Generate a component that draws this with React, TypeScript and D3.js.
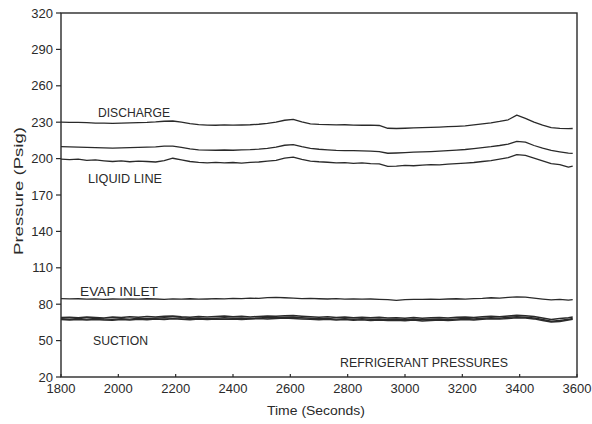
import React from 'react';
import * as d3 from 'd3';

const WIDTH = 592;
const HEIGHT = 424;

// Sample times (seconds), every 30 s plus the last logged sample
const timeS: number[] = [...d3.range(1800, 3571, 30), 3585];

// Pressures in psig
const discharge = [
  230.0, 229.8, 229.9, 229.6, 229.3, 229.2, 229.0, 229.3, 229.5, 229.6,
  229.8, 230.2, 230.8, 231.0, 230.0, 228.8, 228.0, 227.6, 227.5, 227.8,
  227.6, 227.7, 227.9, 228.3, 229.0, 230.0, 231.6, 232.4, 230.2, 228.7,
  228.2, 228.0, 227.8, 227.9, 227.6, 227.5, 227.6, 227.3, 225.0, 224.8,
  225.0, 225.3, 225.5, 225.8, 226.0, 226.3, 226.6, 227.0, 227.8, 228.6,
  229.5, 230.6, 232.0, 235.8, 233.2, 230.0, 227.6, 225.6, 224.9, 224.7,
  224.8,
];
const condenserOut = [
  209.8, 209.6, 209.5, 209.3, 209.0, 208.8, 208.7, 208.9, 209.0, 209.2,
  209.4, 209.7, 210.2, 210.3, 209.3, 208.0, 207.2, 207.0, 206.9, 207.1,
  206.9, 207.2, 207.4, 207.8, 208.5, 209.5, 211.0, 211.6, 209.8, 208.4,
  207.7, 207.2, 206.8, 206.6, 206.5, 206.3, 206.2, 205.8, 204.4, 204.6,
  204.9, 205.3, 205.5, 205.8, 206.2, 206.6, 207.0, 207.5, 208.2, 209.0,
  209.8, 210.8, 212.0, 214.2, 213.6, 210.8, 208.6, 206.8, 205.6, 204.5,
  204.3,
];
const liquidLine = [
  199.6, 199.2, 199.5, 198.6, 198.9, 198.2, 197.6, 198.1, 197.4, 197.9,
  197.6, 197.2, 198.4, 200.3, 199.0, 197.6, 196.9, 196.5, 196.9, 196.4,
  196.8, 196.3, 196.9, 197.2, 197.9, 198.6, 200.4, 201.2, 199.3, 198.0,
  197.4, 197.0, 196.4, 196.7, 196.1, 196.4, 195.9, 195.6, 193.6, 193.8,
  194.4, 194.1, 194.7, 195.0, 194.8, 195.4, 195.9, 196.3, 196.8, 197.6,
  198.4, 199.6, 200.8, 203.2, 202.6, 200.4, 198.2, 195.9, 195.1, 192.9,
  193.8,
];
const evapInlet = [
  84.6, 84.4, 84.5, 84.2, 84.4, 84.0, 84.3, 84.1, 84.4, 84.2,
  84.5, 84.3, 84.0, 84.4, 84.2, 84.5, 84.1, 84.3, 84.6, 84.4,
  84.8, 84.6, 85.0, 84.8, 85.4, 85.7, 85.3, 85.0, 84.6, 84.8,
  84.5, 84.3, 84.6, 84.2, 84.4, 84.1, 84.3, 84.0, 83.8, 83.1,
  83.8, 84.0, 83.9, 84.2, 84.0, 84.3, 84.5, 84.2, 84.6, 84.8,
  85.3, 85.0, 85.6, 86.0, 85.8, 85.0, 84.2, 83.5, 83.9, 83.4,
  83.8,
];
const suctionA = [
  69.0, 69.3, 68.8, 69.5, 69.1, 68.7, 69.4, 69.0, 69.6, 69.2,
  69.8, 69.4, 70.0, 70.3, 69.7, 69.3, 69.8, 69.4, 69.9, 70.2,
  69.6, 70.0, 69.5, 69.9, 70.3, 70.0, 70.4, 70.6, 70.1, 69.6,
  69.2, 69.6, 69.0, 69.4, 68.9, 69.3, 68.8, 69.2, 68.7, 68.9,
  68.5, 69.0, 68.4, 68.8, 69.1, 68.6, 69.2, 69.5, 69.0, 69.6,
  70.0, 69.7, 70.3, 70.8, 70.5, 69.8, 68.6, 67.4, 68.3, 68.8,
  69.4,
];
const suctionB = [
  68.0, 67.6, 68.2, 67.7, 68.3, 67.8, 67.5, 68.1, 67.7, 68.4,
  68.0, 68.5, 68.8, 68.5, 68.9, 68.2, 68.6, 68.0, 68.5, 68.9,
  68.4, 68.7, 68.2, 68.6, 69.0, 68.8, 69.2, 69.5, 68.9, 68.4,
  68.0, 68.3, 67.7, 68.1, 67.6, 68.0, 67.5, 67.9, 67.3, 67.6,
  67.2, 67.8, 67.1, 67.5, 67.9, 67.4, 67.9, 68.3, 67.8, 68.4,
  68.9, 68.5, 69.2, 69.6, 69.3, 68.6, 67.3, 66.0, 66.6, 67.5,
  68.2,
];
const suctionC = [
  67.4, 67.0, 67.3, 66.9, 67.4, 67.0, 66.8, 67.3, 67.0, 67.6,
  67.2, 67.7, 67.4, 68.0, 67.6, 67.2, 67.7, 67.3, 67.8, 67.5,
  67.9, 67.4, 67.8, 68.2, 67.9, 68.3, 68.6, 68.2, 67.8, 67.5,
  67.2, 67.5, 66.9, 67.3, 66.8, 67.1, 66.6, 67.0, 66.5, 66.8,
  66.3, 66.9, 66.2, 66.6, 67.0, 66.5, 67.0, 67.4, 67.0, 67.6,
  68.0, 67.7, 68.3, 68.9, 68.6, 67.9, 66.5, 65.4, 65.8, 66.9,
  67.6,
];

const xTicks = [1800, 2000, 2200, 2400, 2600, 2800, 3000, 3200, 3400, 3600];
const yTicks = [20, 50, 80, 110, 140, 170, 200, 230, 260, 290, 320];

const series = [discharge, condenserOut, liquidLine, evapInlet, suctionA, suctionB, suctionC];

// Curve annotations: text, left x, baseline y, width
const annotations: [string, number, number, number][] = [
  ['DISCHARGE', 98, 117, 72],
  ['LIQUID LINE', 88, 183, 74],
  ['EVAP INLET', 80, 296, 78],
  ['SUCTION', 93, 345, 55],
  ['REFRIGERANT PRESSURES', 340, 367, 168],
];

const INK = '#2a2a2a';
const FONT = '"Liberation Sans", Arial, sans-serif';

export default function App() {
  const left = 61, right = 577, top = 13, bottom = 377;
  const x = d3.scaleLinear().domain([1800, 3600]).range([left, right]);
  const y = d3.scaleLinear().domain([20, 320]).range([bottom, top]);

  const line = (vals: number[]) =>
    d3.line<number>()
      .x((_, i) => x(timeS[i]))
      .y((v) => y(v))(vals) as string;

  return (
    <svg
      width={WIDTH}
      height={HEIGHT}
      style={{ position: 'absolute', left: 0, top: 0, background: '#fff' }}
    >
      {/* frame */}
      <rect x={left} y={top} width={right - left} height={bottom - top}
        fill="none" stroke={INK} strokeWidth={1.4} />

      {/* y axis */}
      {yTicks.map((t) => (
        <g key={'y' + t}>
          <line x1={left - 5} x2={left} y1={y(t)} y2={y(t)} stroke={INK} strokeWidth={1.2} />
          <text x={left - 8} y={y(t)} dy="0.36em" textAnchor="end"
            fontFamily={FONT} fontSize={13} fill={INK}>{t}</text>
        </g>
      ))}

      {/* x axis */}
      {xTicks.map((t) => (
        <g key={'x' + t}>
          <line x1={x(t)} x2={x(t)} y1={bottom} y2={bottom - 3} stroke={INK} strokeWidth={1.2} />
          <text x={x(t)} y={393} textAnchor="middle"
            fontFamily={FONT} fontSize={13} fill={INK}>{t}</text>
        </g>
      ))}

      <text x={316} y={415} textAnchor="middle" fontFamily={FONT} fontSize={13.5}
        fill={INK} textLength={98} lengthAdjust="spacingAndGlyphs">Time (Seconds)</text>
      <text transform={`translate(23,191) rotate(-90)`} textAnchor="middle"
        fontFamily={FONT} fontSize={13.5} fill={INK}
        textLength={128} lengthAdjust="spacingAndGlyphs">Pressure (Psig)</text>

      {/* pressure traces */}
      {series.map((vals, i) => (
        <path key={'s' + i} d={line(vals)} fill="none" stroke={INK}
          strokeWidth={i >= 4 ? 1.5 : 1.3} strokeLinejoin="round" />
      ))}

      {annotations.map(([label, ax, ay, w]) => (
        <text key={label} x={ax} y={ay} fontFamily={FONT} fontSize={13.5} fill={INK}
          textLength={w} lengthAdjust="spacingAndGlyphs">{label}</text>
      ))}
    </svg>
  );
}
